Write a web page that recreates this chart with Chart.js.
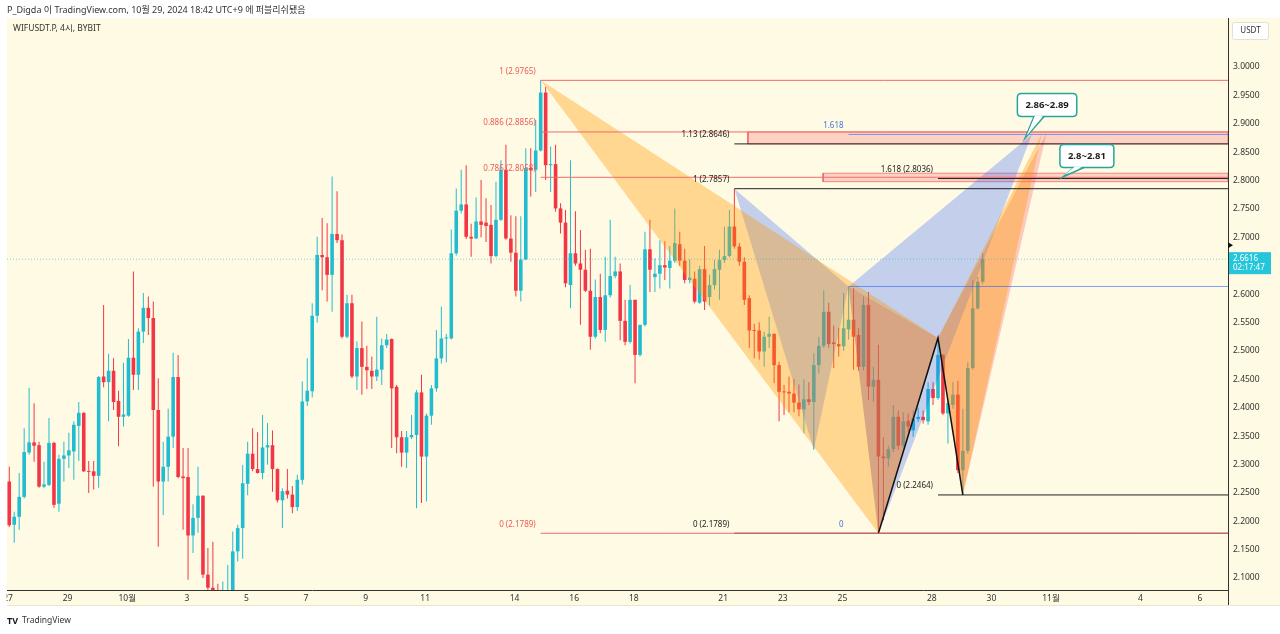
<!DOCTYPE html>
<html>
<head>
<meta charset="utf-8">
<script src="https://cdn.jsdelivr.net/npm/chart.js@4.4.1/dist/chart.umd.min.js"></script>
<style>
  html, body { margin: 0; padding: 0; background: #fff; }
  #wrap { width: 1280px; height: 634px; }
</style>
</head>
<body>
<div id="wrap"><canvas id="chart" width="1280" height="634"></canvas></div>
<script>
// WIFUSDT.P 4h candles, Sep 27 01:00 .. Oct 29 17:00 (UTC+9)
const OPEN = [
  2.270, 2.194, 2.208, 2.243, 2.321, 2.339, 2.334, 2.261, 2.264, 2.338,
  2.231, 2.310, 2.316, 2.323, 2.368, 2.391, 2.288, 2.288, 2.280, 2.455,
  2.445, 2.465, 2.412, 2.384, 2.386, 2.488, 2.458, 2.534, 2.576, 2.558,
  2.396, 2.270, 2.296, 2.349, 2.454, 2.279, 2.278, 2.175, 2.206, 2.245,
  2.106, 2.083, 2.072, 2.066, 2.074, 2.079, 2.147, 2.188, 2.266, 2.319,
  2.292, 2.285, 2.330, 2.334, 2.292, 2.237, 2.254, 2.247, 2.225, 2.273,
  2.411, 2.429, 2.562, 2.669, 2.665, 2.634, 2.706, 2.695, 2.525, 2.584,
  2.455, 2.505, 2.472, 2.465, 2.455, 2.467, 2.510, 2.521, 2.437, 2.348,
  2.321, 2.348, 2.352, 2.427, 2.314, 2.386, 2.434, 2.487, 2.522, 2.522,
  2.672, 2.747, 2.758, 2.701, 2.698, 2.728, 2.726, 2.722, 2.667, 2.731,
  2.819, 2.698, 2.673, 2.606, 2.661, 2.822, 2.819, 2.853, 2.955, 2.827,
  2.829, 2.751, 2.726, 2.616, 2.672, 2.654, 2.643, 2.606, 2.525, 2.595,
  2.537, 2.598, 2.632, 2.640, 2.553, 2.516, 2.590, 2.493, 2.546, 2.679,
  2.630, 2.636, 2.651, 2.646, 2.659, 2.688, 2.659, 2.625, 2.627, 2.585,
  2.644, 2.595, 2.616, 2.643, 2.660, 2.667, 2.719, 2.684, 2.657, 2.593,
  2.536, 2.536, 2.499, 2.525, 2.530, 2.475, 2.428, 2.428, 2.425, 2.409,
  2.397, 2.415, 2.410, 2.475, 2.509, 2.569, 2.515, 2.512, 2.508, 2.538,
  2.555, 2.528, 2.472, 2.581, 2.437, 2.449, 2.314, 2.311, 2.327, 2.384,
  2.333, 2.377, 2.360, 2.380, 2.384, 2.376, 2.433, 2.417, 2.493, 2.390,
  2.405, 2.423, 2.290, 2.324, 2.470, 2.575, 2.622
];
const HIGH = [
  2.296, 2.217, 2.285, 2.364, 2.435, 2.408, 2.340, 2.305, 2.382, 2.340,
  2.317, 2.340, 2.356, 2.376, 2.410, 2.392, 2.306, 2.306, 2.456, 2.581,
  2.495, 2.487, 2.430, 2.479, 2.521, 2.640, 2.540, 2.602, 2.596, 2.587,
  2.452, 2.340, 2.398, 2.497, 2.493, 2.329, 2.329, 2.230, 2.296, 2.246,
  2.153, 2.164, 2.090, 2.094, 2.123, 2.182, 2.194, 2.299, 2.340, 2.364,
  2.357, 2.387, 2.373, 2.360, 2.293, 2.258, 2.292, 2.262, 2.282, 2.446,
  2.487, 2.584, 2.701, 2.734, 2.725, 2.807, 2.781, 2.705, 2.599, 2.599,
  2.517, 2.552, 2.509, 2.490, 2.560, 2.522, 2.530, 2.522, 2.440, 2.359,
  2.359, 2.387, 2.431, 2.458, 2.390, 2.440, 2.537, 2.578, 2.530, 2.714,
  2.786, 2.819, 2.827, 2.724, 2.770, 2.801, 2.769, 2.757, 2.798, 2.836,
  2.863, 2.739, 2.737, 2.737, 2.857, 2.857, 2.907, 2.9765, 2.965, 2.860,
  2.863, 2.760, 2.748, 2.836, 2.746, 2.713, 2.678, 2.680, 2.626, 2.636,
  2.666, 2.731, 2.666, 2.654, 2.590, 2.616, 2.590, 2.530, 2.710, 2.731,
  2.663, 2.695, 2.693, 2.685, 2.751, 2.710, 2.680, 2.661, 2.640, 2.650,
  2.685, 2.634, 2.660, 2.678, 2.719, 2.748, 2.7857, 2.690, 2.665, 2.598,
  2.548, 2.550, 2.534, 2.560, 2.531, 2.481, 2.440, 2.455, 2.450, 2.441,
  2.450, 2.445, 2.496, 2.525, 2.607, 2.585, 2.545, 2.540, 2.602, 2.6135,
  2.611, 2.540, 2.596, 2.604, 2.472, 2.511, 2.348, 2.333, 2.405, 2.395,
  2.392, 2.390, 2.395, 2.400, 2.395, 2.445, 2.445, 2.523, 2.494, 2.412,
  2.445, 2.447, 2.398, 2.480, 2.625, 2.630, 2.672
];
const LOW = [
  2.190, 2.162, 2.185, 2.240, 2.317, 2.305, 2.259, 2.258, 2.262, 2.224,
  2.217, 2.270, 2.294, 2.273, 2.306, 2.287, 2.250, 2.256, 2.259, 2.436,
  2.376, 2.396, 2.332, 2.367, 2.384, 2.431, 2.431, 2.514, 2.528, 2.261,
  2.155, 2.211, 2.270, 2.329, 2.276, 2.185, 2.097, 2.144, 2.180, 2.100,
  2.060, 2.050, 2.040, 2.045, 2.050, 2.070, 2.129, 2.134, 2.246, 2.288,
  2.284, 2.274, 2.300, 2.252, 2.233, 2.188, 2.240, 2.214, 2.218, 2.265,
  2.403, 2.418, 2.550, 2.607, 2.587, 2.569, 2.690, 2.522, 2.522, 2.452,
  2.431, 2.423, 2.433, 2.433, 2.447, 2.440, 2.505, 2.329, 2.320, 2.296,
  2.294, 2.345, 2.223, 2.232, 2.235, 2.370, 2.428, 2.478, 2.480, 2.520,
  2.668, 2.742, 2.697, 2.666, 2.697, 2.700, 2.692, 2.654, 2.665, 2.729,
  2.696, 2.657, 2.596, 2.587, 2.660, 2.772, 2.780, 2.851, 2.801, 2.780,
  2.745, 2.707, 2.612, 2.575, 2.650, 2.546, 2.604, 2.502, 2.522, 2.531,
  2.516, 2.594, 2.628, 2.519, 2.510, 2.513, 2.443, 2.490, 2.543, 2.604,
  2.604, 2.610, 2.625, 2.610, 2.655, 2.650, 2.619, 2.619, 2.584, 2.583,
  2.572, 2.580, 2.608, 2.590, 2.655, 2.665, 2.680, 2.650, 2.581, 2.505,
  2.487, 2.485, 2.472, 2.505, 2.443, 2.376, 2.387, 2.392, 2.392, 2.385,
  2.355, 2.405, 2.326, 2.460, 2.505, 2.505, 2.470, 2.490, 2.500, 2.520,
  2.467, 2.465, 2.466, 2.414, 2.410, 2.1789, 2.202, 2.296, 2.322, 2.326,
  2.330, 2.357, 2.349, 2.375, 2.372, 2.370, 2.405, 2.414, 2.387, 2.337,
  2.398, 2.285, 2.2464, 2.319, 2.467, 2.573, 2.618
];
const CLOSE = [
  2.193, 2.208, 2.243, 2.322, 2.339, 2.333, 2.261, 2.265, 2.338, 2.229,
  2.310, 2.316, 2.325, 2.370, 2.391, 2.288, 2.287, 2.280, 2.454, 2.445,
  2.465, 2.410, 2.384, 2.388, 2.488, 2.458, 2.534, 2.576, 2.558, 2.396,
  2.270, 2.296, 2.349, 2.454, 2.278, 2.276, 2.175, 2.206, 2.245, 2.106,
  2.083, 2.072, 2.066, 2.074, 2.079, 2.147, 2.188, 2.267, 2.319, 2.292,
  2.285, 2.330, 2.334, 2.292, 2.237, 2.253, 2.247, 2.225, 2.273, 2.411,
  2.430, 2.562, 2.669, 2.665, 2.634, 2.706, 2.695, 2.525, 2.584, 2.455,
  2.505, 2.472, 2.466, 2.455, 2.467, 2.510, 2.520, 2.434, 2.348, 2.321,
  2.348, 2.352, 2.427, 2.314, 2.386, 2.434, 2.487, 2.522, 2.523, 2.672,
  2.747, 2.758, 2.701, 2.698, 2.728, 2.722, 2.720, 2.667, 2.731, 2.819,
  2.698, 2.673, 2.606, 2.661, 2.822, 2.819, 2.853, 2.955, 2.827, 2.829,
  2.751, 2.726, 2.619, 2.672, 2.654, 2.643, 2.606, 2.525, 2.595, 2.537,
  2.598, 2.632, 2.640, 2.553, 2.516, 2.590, 2.493, 2.546, 2.679, 2.643,
  2.636, 2.651, 2.647, 2.659, 2.690, 2.659, 2.625, 2.629, 2.587, 2.644,
  2.587, 2.616, 2.644, 2.660, 2.667, 2.719, 2.684, 2.657, 2.590, 2.536,
  2.535, 2.499, 2.525, 2.530, 2.475, 2.428, 2.427, 2.425, 2.409, 2.397,
  2.415, 2.410, 2.475, 2.509, 2.569, 2.512, 2.512, 2.508, 2.540, 2.555,
  2.525, 2.472, 2.581, 2.437, 2.449, 2.314, 2.311, 2.327, 2.384, 2.333,
  2.376, 2.367, 2.381, 2.384, 2.378, 2.433, 2.417, 2.493, 2.390, 2.408,
  2.423, 2.290, 2.324, 2.470, 2.575, 2.622, 2.6616
];
const LAST_PRICE = 2.6616;

// x axis: days since Sep 27 00:00
const TICK_DAYS = [0, 2, 4, 6, 8, 10, 12, 14, 17, 19, 21, 24, 26, 28, 31, 33, 35, 38, 40];
const TICK_LABELS = ['27', '29', '10월', '3', '5', '7', '9', '11', '14', '16', '18', '21', '23', '25', '28', '30', '11월', '4', '6'];
const PRICE_TICKS = [2.10, 2.15, 2.20, 2.25, 2.30, 2.35, 2.40, 2.45, 2.50, 2.55, 2.60, 2.65, 2.70, 2.75, 2.80, 2.85, 2.90, 2.95, 3.00];

// fib retracements
const FIB_RED_START = 17.875;
const FIB_RED_LEVELS = ['1', '0.886', '0.786', '0'];
const FIB_RED_PRICES = [2.9765, 2.8856, 2.8058, 2.1789];
const FIB_BLACK_START = 24.375;
const FIB_BLACK_LEVELS = ['1.13', '1', '0'];
const FIB_BLACK_PRICES = [2.8646, 2.7857, 2.1789];
const FIB_BLUE_START = 28.208;
const FIB_BLUE_LEVELS = ['1.618', '', '0'];
const FIB_BLUE_PRICES = [2.8813, 2.6135, 2.1789];
const FIB_EXT_START = 31.208;
const FIB_EXT_LEVELS = ['1.618', '0'];
const FIB_EXT_PRICES = [2.8036, 2.2464];

// harmonic patterns X, A, B, C, D
const ORANGE_DAYS = [17.875, 29.208, 31.208, 32.042, 34.70];
const ORANGE_PRICES = [2.9765, 2.1789, 2.5229, 2.2464, 2.884];
const BLUE_DAYS = [24.375, 27.042, 28.208, 29.208, 34.36];
const BLUE_PRICES = [2.7857, 2.326, 2.6135, 2.1789, 2.8813];
const RED_DAYS = [28.208, 29.208, 31.208, 32.042, 34.85];
const RED_PRICES = [2.6135, 2.1789, 2.5229, 2.2464, 2.884];

// target zones and callouts
const ZONE_START = [24.83, 27.35];
const ZONE_LOW = [2.8646, 2.798];
const ZONE_HIGH = [2.8856, 2.813];
const ZONE_TEXT = ['2.86~2.89', '2.8~2.81'];
const CALLOUT_DAY = [34.13, 35.40];
const CALLOUT_PRICE = [2.875, 2.8063];

const UP = '#22bcd1';
const DOWN = '#f23645';
const X_MIN = -0.034, X_MAX = 40.94;
const Y_MIN = 2.079, Y_MAX = 3.0863;
const FONT = "'Noto Sans', 'Noto Sans CJK KR', sans-serif";

const candleDay = i => i / 6 + 1 / 24;
const candleColor = i => CLOSE[i] >= OPEN[i] ? UP : DOWN;

function hline(start, price, color, width, dash) {
    return {
        type: 'line',
        data: [{ x: start, y: price }, { x: X_MAX, y: price }],
        borderColor: color,
        borderWidth: width || 1,
        borderDash: dash || [],
        pointRadius: 0,
        fill: false,
        order: 1
    };
}

function shape(days, prices, idx, color, border) {
    return {
        type: 'line',
        data: idx.map(i => ({ x: days[i], y: prices[i] })),
        backgroundColor: color,
        borderColor: border || 'rgba(0,0,0,0)',
        borderWidth: border ? 1 : 0,
        pointRadius: 0,
        fill: 'shape',
        order: 3
    };
}

function buildDatasets() {
    const sets = [];
    // wicks and bodies
    sets.push({
        type: 'bar',
        data: OPEN.map((o, i) => ({ x: candleDay(i), y: [LOW[i], HIGH[i]] })),
        backgroundColor: OPEN.map((o, i) => candleColor(i)),
        barThickness: 1,
        grouped: false,
        inflateAmount: 0,
        order: 11
    });
    sets.push({
        type: 'bar',
        data: OPEN.map((o, i) => ({ x: candleDay(i), y: [o, CLOSE[i]] })),
        backgroundColor: OPEN.map((o, i) => candleColor(i)),
        barThickness: 3.6,
        minBarLength: 1,
        grouped: false,
        inflateAmount: 0,
        order: 10
    });

    // pattern triangles (XAB and BCD)
    const orange = 'rgba(255,152,0,0.36)';
    const blue = 'rgba(41,98,255,0.28)';
    const red = 'rgba(242,54,69,0.25)';
    sets.push(shape(ORANGE_DAYS, ORANGE_PRICES, [0, 1, 2], orange));
    sets.push(shape(ORANGE_DAYS, ORANGE_PRICES, [2, 3, 4], orange));
    sets.push(shape(BLUE_DAYS, BLUE_PRICES, [0, 1, 2], blue));
    sets.push(shape(BLUE_DAYS, BLUE_PRICES, [2, 3, 4], blue));
    sets.push(shape(RED_DAYS, RED_PRICES, [0, 1, 2], red));
    sets.push(shape(RED_DAYS, RED_PRICES, [2, 3, 4], red));

    // target zones
    ZONE_START.forEach((s, i) => {
        const days = [s, X_MAX, X_MAX, s, s];
        const prices = [ZONE_LOW[i], ZONE_LOW[i], ZONE_HIGH[i], ZONE_HIGH[i], ZONE_LOW[i]];
        sets.push(shape(days, prices, [0, 1, 2, 3, 4], 'rgba(242,54,69,0.2)', 'rgba(242,54,69,0.55)'));
    });

    // fib levels
    FIB_RED_PRICES.forEach(p => sets.push(hline(FIB_RED_START, p, '#ee6b6b')));
    FIB_BLACK_PRICES.forEach(p => sets.push(hline(FIB_BLACK_START, p, '#222222')));
    FIB_BLUE_PRICES.slice(0, 2).forEach(p => sets.push(hline(FIB_BLUE_START, p, 'rgba(41,98,255,0.6)')));
    FIB_EXT_PRICES.forEach(p => sets.push(hline(FIB_EXT_START, p, '#222222')));

    // zigzag A-B-C of the last swing
    sets.push({
        type: 'line',
        data: [1, 2, 3].map(i => ({ x: RED_DAYS[i], y: RED_PRICES[i] })),
        borderColor: '#111111',
        borderWidth: 1.5,
        pointRadius: 0,
        fill: false,
        order: 1
    });

    // last price line
    sets.push(hline(X_MIN, LAST_PRICE, 'rgba(34,188,209,0.6)', 1, [1, 2]));
    return sets;
}

function roundRect(ctx, x, y, w, h, r) {
    ctx.beginPath();
    ctx.moveTo(x + r, y);
    ctx.lineTo(x + w - r, y);
    ctx.quadraticCurveTo(x + w, y, x + w, y + r);
    ctx.lineTo(x + w, y + h - r);
    ctx.quadraticCurveTo(x + w, y + h, x + w - r, y + h);
    ctx.lineTo(x + r, y + h);
    ctx.quadraticCurveTo(x, y + h, x, y + h - r);
    ctx.lineTo(x, y + r);
    ctx.quadraticCurveTo(x, y, x + r, y);
    ctx.closePath();
}

const overlay = {
    id: 'overlay',
    beforeDraw(chart) {
        const ctx = chart.ctx;
        ctx.save();
        ctx.fillStyle = '#ffffff';
        ctx.fillRect(0, 0, chart.width, chart.height);
        ctx.fillStyle = '#fffae3';
        ctx.fillRect(7, 18, chart.width - 7, 587);
        ctx.restore();
    },
    afterDatasetsDraw(chart) {
        const ctx = chart.ctx;
        const xs = chart.scales.x, ys = chart.scales.y;
        const px = d => xs.getPixelForValue(d);
        const py = p => ys.getPixelForValue(p);
        ctx.save();
        ctx.font = '8px ' + FONT;
        ctx.textAlign = 'right';
        ctx.textBaseline = 'middle';

        function fibLabels(start, levels, prices, color, withPrice) {
            ctx.fillStyle = color;
            levels.forEach((lv, i) => {
                if (!lv) return;
                const txt = withPrice ? lv + ' (' + prices[i].toFixed(4) + ')' : lv;
                ctx.fillText(txt, px(start) - 5, py(prices[i]) - 9);
            });
        }
        fibLabels(FIB_RED_START, FIB_RED_LEVELS, FIB_RED_PRICES, '#ec5a5a', true);
        fibLabels(FIB_BLACK_START, FIB_BLACK_LEVELS, FIB_BLACK_PRICES, '#222222', true);
        fibLabels(FIB_BLUE_START, FIB_BLUE_LEVELS, FIB_BLUE_PRICES, '#4a74e0', false);
        fibLabels(FIB_EXT_START, FIB_EXT_LEVELS, FIB_EXT_PRICES, '#222222', true);

        // callouts
        const offsets = [[22, -33], [24, -21]];
        ctx.font = 'bold 9.5px ' + FONT;
        ctx.textAlign = 'center';
        ZONE_TEXT.forEach((txt, i) => {
            const tx = px(CALLOUT_DAY[i]), ty = py(CALLOUT_PRICE[i]);
            const cx = tx + offsets[i][0], cy = ty + offsets[i][1];
            const w = ctx.measureText(txt).width + 16, h = 23;
            ctx.fillStyle = '#ffffff';
            ctx.strokeStyle = '#26a69a';
            ctx.lineWidth = 1.5;
            roundRect(ctx, cx - w / 2, cy - h / 2, w, h, 4);
            ctx.fill();
            ctx.stroke();
            ctx.beginPath();
            ctx.moveTo(cx - 13, cy + h / 2);
            ctx.lineTo(tx, ty);
            ctx.lineTo(cx - 3, cy + h / 2);
            ctx.stroke();
            ctx.beginPath();
            ctx.moveTo(cx - 12, cy + h / 2 - 1);
            ctx.lineTo(tx + 1.5, ty - 2);
            ctx.lineTo(cx - 4, cy + h / 2 - 1);
            ctx.closePath();
            ctx.fill();
            ctx.fillStyle = '#1c1c1c';
            ctx.fillText(txt, cx, cy + 0.5);
        });
        ctx.restore();
    },
    afterDraw(chart) {
        const ctx = chart.ctx;
        const ys = chart.scales.y;
        const area = chart.chartArea;
        ctx.save();
        // left gutter
        ctx.fillStyle = '#ffffff';
        ctx.fillRect(0, 18, 6.5, 616);
        // axis strip edges
        ctx.strokeStyle = '#333333';
        ctx.lineWidth = 1;
        ctx.beginPath();
        ctx.moveTo(area.right + 0.5, 18);
        ctx.lineTo(area.right + 0.5, 605);
        ctx.stroke();
        ctx.strokeStyle = '#ece6cc';
        ctx.beginPath();
        ctx.moveTo(7, 605.5);
        ctx.lineTo(1280, 605.5);
        ctx.stroke();

        // header
        ctx.fillStyle = '#333333';
        ctx.textBaseline = 'middle';
        ctx.textAlign = 'left';
        ctx.font = '9px ' + FONT;
        ctx.fillText('P_Digda 이 TradingView.com, 10월 29, 2024 18:42 UTC+9 에 퍼블리쉬됐음', 7, 10);
        ctx.font = '8.5px ' + FONT;
        ctx.fillText('WIFUSDT.P, 4시, BYBIT', 13, 29);

        // currency box
        ctx.fillStyle = '#ffffff';
        ctx.strokeStyle = '#e4e0d0';
        roundRect(ctx, 1232.5, 22.5, 36, 17, 2);
        ctx.fill();
        ctx.stroke();
        ctx.fillStyle = '#333333';
        ctx.textAlign = 'center';
        ctx.font = '8px ' + FONT;
        ctx.fillText('USDT', 1250.5, 31);

        // last price label
        const ly = ys.getPixelForValue(LAST_PRICE);
        ctx.fillStyle = '#26c6da';
        ctx.fillRect(area.right + 1, ly - 7, 42, 22);
        ctx.fillStyle = '#ffffff';
        ctx.textAlign = 'left';
        ctx.font = '8px ' + FONT;
        ctx.fillText(LAST_PRICE.toFixed(4), area.right + 5, ly);
        ctx.fillText('02:17:47', area.right + 5, ly + 9);

        // small marker on the axis
        ctx.fillStyle = '#111111';
        ctx.beginPath();
        ctx.moveTo(area.right, ly - 17);
        ctx.lineTo(area.right + 5, ly - 14);
        ctx.lineTo(area.right, ly - 11);
        ctx.closePath();
        ctx.fill();

        // footer
        ctx.fillStyle = '#131722';
        ctx.font = 'bold 9px ' + FONT;
        ctx.fillText('TV', 7, 621);
        ctx.font = '8.5px ' + FONT;
        ctx.fillStyle = '#333333';
        ctx.fillText('TradingView', 22, 621);
        ctx.restore();
    }
};

function createChart() {
    const ctx = document.getElementById('chart').getContext('2d');
    return new Chart(ctx, {
        type: 'bar',
        data: { datasets: buildDatasets() },
        options: {
            responsive: false,
            animation: false,
            devicePixelRatio: 1,
            layout: { padding: { left: 7, top: 18, right: 0, bottom: 29 } },
            plugins: {
                legend: { display: false },
                tooltip: { enabled: false }
            },
            scales: {
                x: {
                    type: 'linear',
                    min: X_MIN,
                    max: X_MAX,
                    offset: false,
                    grid: { display: false, drawTicks: false },
                    border: { display: true, color: '#333333' },
                    ticks: {
                        autoSkip: false,
                        maxRotation: 0,
                        padding: 3,
                        color: '#333333',
                        font: { family: FONT, size: 8.5 },
                        callback: (v, i) => TICK_LABELS[i]
                    },
                    afterBuildTicks: s => { s.ticks = TICK_DAYS.map(v => ({ value: v })); },
                    afterFit: s => { s.height = 15; s.paddingLeft = 0; s.paddingRight = 0; }
                },
                y: {
                    position: 'right',
                    min: Y_MIN,
                    max: Y_MAX,
                    grid: { display: false, drawTicks: false },
                    border: { display: true, color: '#333333' },
                    ticks: {
                        padding: 5,
                        color: '#333333',
                        font: { family: FONT, size: 8.5 },
                        callback: v => v.toFixed(4)
                    },
                    afterBuildTicks: s => { s.ticks = PRICE_TICKS.map(v => ({ value: v })); },
                    afterFit: s => { s.width = 52; s.paddingTop = 0; s.paddingBottom = 0; }
                }
            }
        },
        plugins: [overlay]
    });
}

createChart();
</script>
</body>
</html>
